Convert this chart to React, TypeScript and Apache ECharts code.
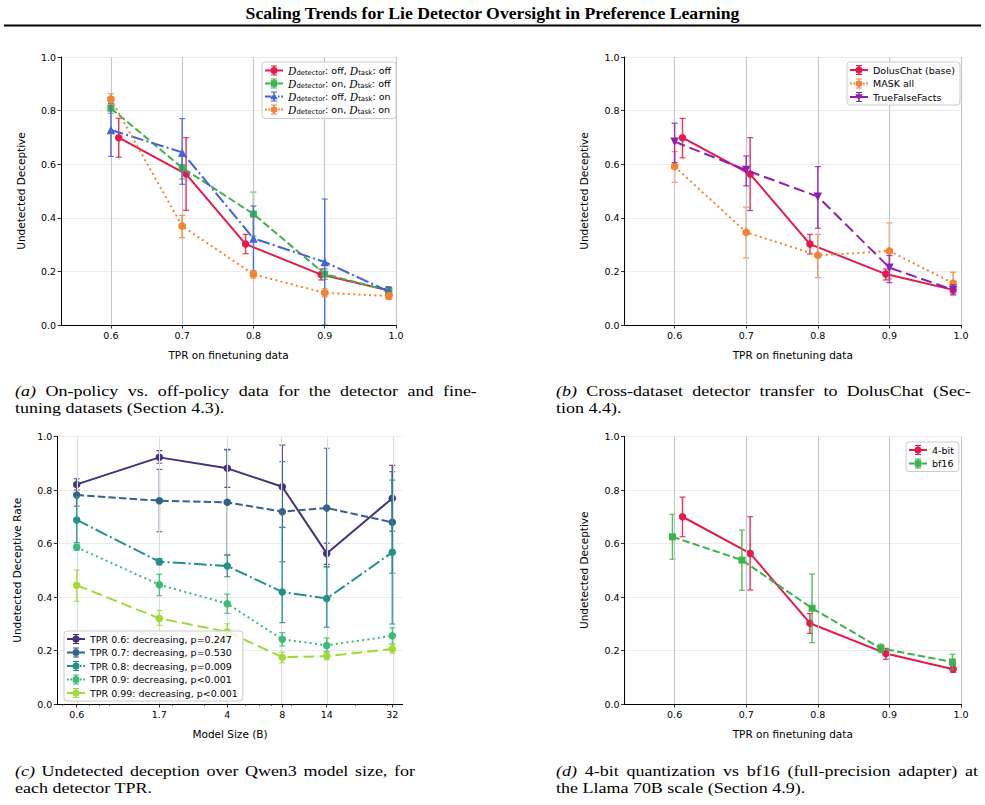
import React, { useEffect, useRef } from "react";
import * as echarts from "echarts";

const TITLE = "Scaling Trends for Lie Detector Oversight in Preference Learning";
const FONT_SANS = "'DejaVu Sans', sans-serif";
const FONT_SERIF = "'Liberation Serif', 'Times New Roman', serif";

// ---------- shared ticks ----------
const tprTicks = [0.6, 0.7, 0.8, 0.9, 1.0];
const yTicksLabel = "Undetected Deceptive";

// ---------- Panel (a) ----------
const aNames = [
  "D_detector: off, D_task: off",
  "D_detector: on, D_task: off",
  "D_detector: off, D_task: on",
  "D_detector: on, D_task: on",
];
const aXoffOff = [0.611, 0.7055, 0.789, 0.895, 0.989];
const aYoffOff = [0.699, 0.563, 0.302, 0.188, 0.13];
const aLoOffOff = [0.626, 0.428, 0.266, 0.168, 0.118];
const aHiOffOff = [0.771, 0.699, 0.338, 0.209, 0.142];

const aXonOff = [0.6, 0.7, 0.8, 0.9, 0.99];
const aYonOff = [0.809, 0.587, 0.414, 0.19, 0.128];
const aLoOnOff = [0.79, 0.545, 0.332, 0.17, 0.115];
const aHiOnOff = [0.828, 0.63, 0.496, 0.21, 0.141];

const aXoffOn = [0.6, 0.7, 0.8, 0.9, 0.99];
const aYoffOn = [0.728, 0.644, 0.323, 0.235, 0.125];
const aLoOffOn = [0.629, 0.525, 0.202, 0.0, 0.11];
const aHiOffOn = [0.827, 0.77, 0.444, 0.47, 0.14];

const aXonOn = [0.6, 0.7, 0.8, 0.9, 0.99];
const aYonOn = [0.843, 0.369, 0.189, 0.12, 0.108];
const aLoOnOn = [0.823, 0.326, 0.175, 0.105, 0.095];
const aHiOnOn = [0.863, 0.409, 0.203, 0.135, 0.121];

// ---------- Panel (b) ----------
const bNames = ["DolusChat (base)", "MASK all", "TrueFalseFacts"];
const bXdolus = [0.611, 0.7055, 0.789, 0.895, 0.989];
const bYdolus = [0.699, 0.563, 0.302, 0.19, 0.131];
const bLoDolus = [0.624, 0.427, 0.265, 0.168, 0.119];
const bHiDolus = [0.771, 0.699, 0.338, 0.209, 0.143];

const bXmask = [0.6, 0.7, 0.8, 0.9, 0.989];
const bYmask = [0.591, 0.346, 0.26, 0.276, 0.156];
const bLoMask = [0.532, 0.25, 0.177, 0.171, 0.115];
const bHiMask = [0.647, 0.44, 0.338, 0.381, 0.197];

const bXtff = [0.6, 0.7, 0.8, 0.9, 0.989];
const bYtff = [0.684, 0.578, 0.479, 0.214, 0.131];
const bLoTff = [0.606, 0.519, 0.361, 0.158, 0.112];
const bHiTff = [0.753, 0.631, 0.591, 0.259, 0.15];

// ---------- Panel (c) ----------
const cSizes = [0.6, 1.7, 4, 8, 14, 32];
const cSizeLabels = ["0.6", "1.7", "4", "8", "14", "32"];
const cMinorTicks = [0.5, 0.7, 0.8, 0.9, 2, 3, 5, 6, 7, 9, 20, 30];
const cNames = [
  "TPR 0.6: decreasing, p=0.247",
  "TPR 0.7: decreasing, p=0.530",
  "TPR 0.8: decreasing, p=0.009",
  "TPR 0.9: decreasing, p<0.001",
  "TPR 0.99: decreasing, p<0.001",
];
const cY06 = [0.821, 0.922, 0.881, 0.812, 0.563, 0.769];
const cLo06 = [0.8, 0.9, 0.81, 0.66, 0.522, 0.646];
const cHi06 = [0.842, 0.947, 0.952, 0.968, 0.601, 0.892];

const cY07 = [0.781, 0.76, 0.754, 0.719, 0.733, 0.679];
const cLo07 = [0.74, 0.644, 0.557, 0.532, 0.513, 0.489];
const cHi07 = [0.827, 0.877, 0.95, 0.906, 0.956, 0.869];

const cY08 = [0.688, 0.532, 0.516, 0.419, 0.394, 0.567];
const cLo08 = [0.603, 0.52, 0.476, 0.304, 0.287, 0.299];
const cHi08 = [0.775, 0.544, 0.557, 0.66, 0.513, 0.837];

const cY09 = [0.586, 0.446, 0.375, 0.242, 0.219, 0.255];
const cLo09 = [0.575, 0.405, 0.339, 0.217, 0.196, 0.224];
const cHi09 = [0.597, 0.485, 0.411, 0.267, 0.247, 0.285];

const cY099 = [0.444, 0.32, 0.27, 0.175, 0.179, 0.206];
const cLo099 = [0.384, 0.294, 0.235, 0.154, 0.165, 0.19];
const cHi099 = [0.501, 0.35, 0.3, 0.194, 0.193, 0.223];

// ---------- Panel (d) ----------
const dNames = ["4-bit", "bf16"];
const dX4bit = [0.611, 0.7055, 0.789, 0.895, 0.989];
const dY4bit = [0.7, 0.563, 0.302, 0.189, 0.13];
const dLo4bit = [0.625, 0.426, 0.264, 0.167, 0.118];
const dHi4bit = [0.773, 0.7, 0.338, 0.208, 0.143];

const dXbf16 = [0.597, 0.694, 0.792, 0.888, 0.988];
const dYbf16 = [0.625, 0.538, 0.358, 0.208, 0.157];
const dLoBf16 = [0.541, 0.425, 0.229, 0.192, 0.128];
const dHiBf16 = [0.709, 0.65, 0.486, 0.224, 0.186];

// ---------- captions ----------
const captions = [
  { tag: "(a)", line1: "On-policy vs. off-policy data for the detector and fine-", line2: "tuning datasets (Section 4.3)." },
  { tag: "(b)", line1: "Cross-dataset detector transfer to DolusChat (Sec-", line2: "tion 4.4)." },
  { tag: "(c)", line1: "Undetected deception over Qwen3 model size, for", line2: "each detector TPR." },
  { tag: "(d)", line1: "4-bit quantization vs bf16 (full-precision adapter) at", line2: "the Llama 70B scale (Section 4.9)." },
];

// ---------- styling / layout ----------
const RED = "#e6194b";
const GREEN = "#3cb44b";
const BLUE = "#4363d8";
const ORANGE = "#f58231";
const PURPLE = "#911eb4";
const VIRIDIS = ["#46307e", "#33638d", "#21918c", "#3bbb75", "#a0da39"];

const DASHED = [7.4, 3.2];
const DASHDOT = [12.8, 3.2, 2, 3.2];
const DOTTED = [2, 3.3];
const LONGDASH = [11, 5];

const GRIDS = [
  { left: 61, top: 57, width: 335, height: 268 },
  { left: 624.5, top: 57, width: 336.5, height: 268 },
  { left: 57.3, top: 436.5, width: 345.4, height: 267.5 },
  { left: 624.5, top: 436.5, width: 336.5, height: 267.5 },
];
const TPR_MIN = 0.53;
const TPR_MAX = 1.0;
const C_MIN = -0.328;
const C_MAX = 1.562;

const CAPTION_POS = [
  { x0: 15, x1: 477, y1: 391, y2: 408 },
  { x0: 556, x1: 971, y1: 391, y2: 408 },
  { x0: 15, x1: 415, y1: 771, y2: 788 },
  { x0: 556, x1: 978, y1: 771, y2: 788 },
];
const CAPTION_SIZE = 15.5;
const CAPTION_SCALE_X = 18 / 15.5;

type Mk = "circle" | "square" | "triUp" | "triDown" | "hex";
type LS = "solid" | "dashed" | "dashdot" | "dotted" | "longdash";

const HEX_PATH = "path://M0,-1L0.866,-0.5L0.866,0.5L0,1L-0.866,0.5L-0.866,-0.5Z";

function rectP(x0: number, y0: number, x1: number, y1: number) {
  return `M${x0} ${y0}L${x1} ${y0}L${x1} ${y1}L${x0} ${y1}Z`;
}
function markerP(m: Mk) {
  switch (m) {
    case "circle":
      return "M11 10A7 7 0 1 1 25 10A7 7 0 1 1 11 10Z";
    case "square":
      return rectP(11.5, 3.5, 24.5, 16.5);
    case "triUp":
      return "M18 2.5L25.5 15.5L10.5 15.5Z";
    case "triDown":
      return "M10.5 4.5L25.5 4.5L18 17.5Z";
    default:
      return "M18 2.5L24.5 6.25L24.5 13.75L18 17.5L11.5 13.75L11.5 6.25Z";
  }
}
function segs(ls: LS): number[][] {
  switch (ls) {
    case "solid":
      return [[0, 36]];
    case "dashed":
      return [[0, 11], [25, 36]];
    case "dashdot":
      return [[0, 13], [26, 29], [32.5, 36]];
    case "dotted":
      return [[0, 3.5], [6.6, 10.1], [25.9, 29.4], [32.5, 36]];
    default:
      return [[0, 14], [22, 36]];
  }
}
function legendIcon(m: Mk, ls: LS) {
  let d = segs(ls).map((s) => rectP(s[0], 8, s[1], 12)).join("");
  d += rectP(16.5, 0, 19.5, 20) + rectP(12, 0, 24, 2) + rectP(12, 18, 24, 20);
  d += markerP(m);
  return "path://" + d;
}
function dashOf(ls: LS): any {
  switch (ls) {
    case "dashed":
      return DASHED;
    case "dashdot":
      return DASHDOT;
    case "dotted":
      return DOTTED;
    case "longdash":
      return LONGDASH;
    default:
      return "solid";
  }
}
function symOf(m: Mk): { symbol: string; rotate: number; size: number } {
  switch (m) {
    case "circle":
      return { symbol: "circle", rotate: 0, size: 7.5 };
    case "square":
      return { symbol: "rect", rotate: 0, size: 7 };
    case "triUp":
      return { symbol: "triangle", rotate: 0, size: 8.5 };
    case "triDown":
      return { symbol: "triangle", rotate: 180, size: 8.5 };
    default:
      return { symbol: HEX_PATH, rotate: 0, size: 8.5 };
  }
}

const ident = (v: number) => v;
const log10 = (v: number) => Math.log10(v);

function makePair(
  name: string,
  gi: number,
  xs: number[],
  ys: number[],
  lo: number[],
  hi: number[],
  color: string,
  ls: LS,
  mk: Mk,
  z: number,
  tx: (v: number) => number
) {
  const sym = symOf(mk);
  const err = {
    type: "custom",
    name: name + " (error)",
    xAxisIndex: gi,
    yAxisIndex: gi,
    z: z,
    silent: true,
    clip: true,
    data: xs.map((x, i) => [tx(x), lo[i], hi[i]]),
    encode: { x: 0, y: [1, 2] },
    renderItem: (_p: any, api: any) => {
      const x = api.value(0);
      const a = api.coord([x, api.value(1)]);
      const b = api.coord([x, api.value(2)]);
      const st = { stroke: color, lineWidth: 1.5, opacity: 0.85 };
      const cst = { stroke: color, lineWidth: 1.2, opacity: 0.85 };
      const cap = 3;
      return {
        type: "group",
        children: [
          { type: "line", shape: { x1: a[0], y1: a[1], x2: b[0], y2: b[1] }, style: st },
          { type: "line", shape: { x1: a[0] - cap, y1: a[1], x2: a[0] + cap, y2: a[1] }, style: cst },
          { type: "line", shape: { x1: b[0] - cap, y1: b[1], x2: b[0] + cap, y2: b[1] }, style: cst },
        ],
      };
    },
  };
  const line = {
    type: "line",
    name,
    xAxisIndex: gi,
    yAxisIndex: gi,
    z: z + 1,
    silent: true,
    data: xs.map((x, i) => [tx(x), ys[i]]),
    symbol: sym.symbol,
    symbolSize: sym.size,
    symbolRotate: sym.rotate,
    symbolKeepAspect: true,
    showSymbol: true,
    lineStyle: { color, width: 2, type: dashOf(ls), cap: "butt" },
    itemStyle: { color, borderWidth: 0 },
    emphasis: { disabled: true },
  };
  return [err, line];
}

function vgrid(gi: number, values: number[], color: string) {
  return {
    type: "line",
    name: "vgrid" + gi,
    xAxisIndex: gi,
    yAxisIndex: gi,
    data: [],
    silent: true,
    z: 1,
    markLine: {
      silent: true,
      symbol: ["none", "none"],
      label: { show: false },
      lineStyle: { color, width: 1.1, type: "solid" },
      emphasis: { disabled: true },
      animation: false,
      data: values.map((v) => ({ xAxis: v })),
    },
  };
}

function yAxisCfg(gi: number, name: string) {
  return {
    type: "value",
    gridIndex: gi,
    min: 0,
    max: 1,
    interval: 0.2,
    axisLine: { show: true, onZero: false, lineStyle: { color: "#000", width: 1 } },
    axisTick: { show: true, inside: false, length: 3.5, lineStyle: { color: "#000", width: 0.8 } },
    axisLabel: {
      formatter: (v: number) => v.toFixed(1),
      fontSize: 9.5,
      fontFamily: FONT_SANS,
      color: "#000",
      margin: 5,
    },
    splitLine: { show: true, lineStyle: { color: "#ebebeb", width: 1.1 } },
    name,
    nameLocation: "middle",
    nameGap: 35,
    nameTextStyle: { fontSize: 10.5, fontFamily: FONT_SANS, color: "#000" },
  };
}

function tprXAxis(gi: number) {
  return {
    type: "value",
    gridIndex: gi,
    position: "bottom",
    min: TPR_MIN,
    max: TPR_MAX,
    axisLine: { show: true, onZero: false, lineStyle: { color: "#000", width: 1 } },
    axisTick: { show: true, inside: false, length: 3.5, customValues: tprTicks, lineStyle: { color: "#000", width: 0.8 } },
    axisLabel: {
      customValues: tprTicks,
      formatter: (v: number) => v.toFixed(1),
      fontSize: 9.5,
      fontFamily: FONT_SANS,
      color: "#000",
      margin: 5,
    },
    splitLine: { show: false },
    name: "TPR on finetuning data",
    nameLocation: "middle",
    nameGap: 24,
    nameTextStyle: { fontSize: 10.5, fontFamily: FONT_SANS, color: "#000" },
  };
}

const legendBase: any = {
  orient: "vertical",
  itemWidth: 18,
  itemHeight: 10,
  itemGap: 3.5,
  padding: [3, 5, 3, 3],
  backgroundColor: "rgba(255,255,255,0.8)",
  borderColor: "#cccccc",
  borderWidth: 1,
  borderRadius: 3,
  textStyle: { fontSize: 9.5, fontFamily: FONT_SANS, color: "#000" },
  itemStyle: { borderWidth: 0 },
  selectedMode: false,
  z: 50,
};

function buildOption(graphics: any[]) {
  const series: any[] = [];
  series.push(vgrid(0, tprTicks, "#c6c6c6"));
  series.push(vgrid(1, tprTicks, "#c6c6c6"));
  series.push(vgrid(2, cSizes.map(log10), "#dddddd"));
  series.push(vgrid(3, tprTicks, "#c6c6c6"));

  const aSpec: [number[], number[], number[], number[], string, LS, Mk][] = [
    [aXoffOff, aYoffOff, aLoOffOff, aHiOffOff, RED, "solid", "circle"],
    [aXonOff, aYonOff, aLoOnOff, aHiOnOff, GREEN, "dashed", "square"],
    [aXoffOn, aYoffOn, aLoOffOn, aHiOffOn, BLUE, "dashdot", "triUp"],
    [aXonOn, aYonOn, aLoOnOn, aHiOnOn, ORANGE, "dotted", "hex"],
  ];
  aSpec.forEach((s, i) => series.push(...makePair(aNames[i], 0, s[0], s[1], s[2], s[3], s[4], s[5], s[6], 2 + 2 * i, ident)));

  const bSpec: [number[], number[], number[], number[], string, LS, Mk][] = [
    [bXdolus, bYdolus, bLoDolus, bHiDolus, RED, "solid", "circle"],
    [bXmask, bYmask, bLoMask, bHiMask, ORANGE, "dotted", "hex"],
    [bXtff, bYtff, bLoTff, bHiTff, PURPLE, "longdash", "triDown"],
  ];
  bSpec.forEach((s, i) => series.push(...makePair(bNames[i], 1, s[0], s[1], s[2], s[3], s[4], s[5], s[6], 2 + 2 * i, ident)));

  const cSpec: [number[], number[], number[], LS][] = [
    [cY06, cLo06, cHi06, "solid"],
    [cY07, cLo07, cHi07, "dashed"],
    [cY08, cLo08, cHi08, "dashdot"],
    [cY09, cLo09, cHi09, "dotted"],
    [cY099, cLo099, cHi099, "longdash"],
  ];
  cSpec.forEach((s, i) => series.push(...makePair(cNames[i], 2, cSizes, s[0], s[1], s[2], VIRIDIS[i], s[3], "circle", 2 + 2 * i, log10)));

  const dSpec: [number[], number[], number[], number[], string, LS, Mk][] = [
    [dX4bit, dY4bit, dLo4bit, dHi4bit, RED, "solid", "circle"],
    [dXbf16, dYbf16, dLoBf16, dHiBf16, GREEN, "dashed", "square"],
  ];
  dSpec.forEach((s, i) => series.push(...makePair(dNames[i], 3, s[0], s[1], s[2], s[3], s[4], s[5], s[6], 2 + 2 * i, ident)));

  const cMajor = cSizes.map(log10);
  const xAxes: any[] = [
    tprXAxis(0),
    tprXAxis(1),
    {
      type: "value",
      gridIndex: 2,
      position: "bottom",
      min: C_MIN,
      max: C_MAX,
      axisLine: { show: true, onZero: false, lineStyle: { color: "#000", width: 1 } },
      axisTick: { show: true, inside: false, length: 3.5, customValues: cMajor, lineStyle: { color: "#000", width: 0.8 } },
      axisLabel: {
        customValues: cMajor,
        formatter: (v: number) => {
          let best = 0;
          cSizes.forEach((s, i) => {
            if (Math.abs(log10(s) - v) < Math.abs(log10(cSizes[best]) - v)) best = i;
          });
          return cSizeLabels[best];
        },
        fontSize: 9.5,
        fontFamily: FONT_SANS,
        color: "#000",
        margin: 5,
      },
      splitLine: { show: false },
      name: "Model Size (B)",
      nameLocation: "middle",
      nameGap: 24,
      nameTextStyle: { fontSize: 10.5, fontFamily: FONT_SANS, color: "#000" },
    },
    tprXAxis(3),
    {
      type: "value",
      gridIndex: 2,
      position: "bottom",
      min: C_MIN,
      max: C_MAX,
      axisLine: { show: false, onZero: false },
      axisTick: { show: true, inside: false, length: 2, customValues: cMinorTicks.map(log10), lineStyle: { color: "#000", width: 0.6 } },
      axisLabel: { show: false },
      splitLine: { show: false },
    },
  ];

  const yAxes = [
    yAxisCfg(0, yTicksLabel),
    yAxisCfg(1, yTicksLabel),
    yAxisCfg(2, "Undetected Deceptive Rate"),
    yAxisCfg(3, yTicksLabel),
  ];

  const aMk: [Mk, LS][] = [["circle", "solid"], ["square", "dashed"], ["triUp", "dashdot"], ["hex", "dotted"]];
  const bMk: [Mk, LS][] = [["circle", "solid"], ["hex", "dotted"], ["triDown", "longdash"]];
  const cLs: LS[] = ["solid", "dashed", "dashdot", "dotted", "longdash"];
  const dMk: [Mk, LS][] = [["circle", "solid"], ["square", "dashed"]];

  const legends = [
    {
      ...legendBase,
      left: 262,
      top: 62,
      itemGap: 1.5,
      data: aNames.map((n, i) => ({ name: n, icon: legendIcon(aMk[i][0], aMk[i][1]) })),
      formatter: (name: string) => {
        const m = name.match(/D_detector: (\w+), D_task: (\w+)/);
        if (!m) return name;
        return `{d|D}{s|detector}{t|: ${m[1]}, }{d|D}{s|task}{t|: ${m[2]}}`;
      },
      textStyle: {
        fontSize: 9.5,
        fontFamily: FONT_SANS,
        color: "#000",
        rich: {
          d: { fontFamily: "'DejaVu Serif', serif", fontStyle: "italic", fontSize: 10.5, lineHeight: 12, color: "#000" },
          s: { fontFamily: FONT_SANS, fontSize: 6.8, lineHeight: 12, verticalAlign: "bottom", color: "#000" },
          t: { fontFamily: FONT_SANS, fontSize: 9.5, lineHeight: 12, color: "#000" },
        },
      },
    },
    {
      ...legendBase,
      left: 847,
      top: 62,
      data: bNames.map((n, i) => ({ name: n, icon: legendIcon(bMk[i][0], bMk[i][1]) })),
    },
    {
      ...legendBase,
      left: 64,
      top: 631,
      data: cNames.map((n, i) => ({ name: n, icon: legendIcon("circle", cLs[i]) })),
    },
    {
      ...legendBase,
      left: 906,
      top: 442,
      data: dNames.map((n, i) => ({ name: n, icon: legendIcon(dMk[i][0], dMk[i][1]) })),
    },
  ];

  return {
    animation: false,
    backgroundColor: "#ffffff",
    grid: GRIDS.map((g) => ({ ...g, containLabel: false })),
    xAxis: xAxes,
    yAxis: yAxes,
    legend: legends,
    series,
    graphic: graphics,
  };
}

function buildGraphics() {
  const canvas = document.createElement("canvas");
  const ctx = canvas.getContext("2d") as CanvasRenderingContext2D;
  const measure = (t: string, italic: boolean) => {
    ctx.font = `${italic ? "italic " : ""}${CAPTION_SIZE}px "Liberation Serif"`;
    return ctx.measureText(t).width;
  };
  const els: any[] = [
    {
      type: "text",
      x: 492.5,
      y: 13,
      style: {
        text: TITLE,
        fontFamily: FONT_SERIF,
        fontWeight: "bold",
        fontSize: 17.7,
        fill: "#000",
        align: "center",
        verticalAlign: "middle",
      },
    },
    {
      type: "line",
      shape: { x1: 4, y1: 25.5, x2: 981, y2: 25.5 },
      style: { stroke: "#000", lineWidth: 2.2 },
    },
  ];
  captions.forEach((c, k) => {
    const pos = CAPTION_POS[k];
    const words = c.line1.split(" ");
    const tagW = measure(c.tag, true);
    const wordsW = words.reduce((acc, w) => acc + measure(w, false), 0);
    const localWidth = (pos.x1 - pos.x0) / CAPTION_SCALE_X;
    const gap = Math.max(2, (localWidth - tagW - wordsW) / words.length);
    const text = `{i|${c.tag}}` + words.map((w) => `{g| }{n|${w}}`).join("");
    els.push({
      type: "text",
      x: pos.x0,
      y: pos.y1,
      scaleX: CAPTION_SCALE_X,
      style: {
        text,
        fontFamily: FONT_SERIF,
        fontSize: CAPTION_SIZE,
        fill: "#000",
        align: "left",
        verticalAlign: "middle",
        rich: {
          i: { fontFamily: FONT_SERIF, fontSize: CAPTION_SIZE, fontStyle: "italic", fill: "#000" },
          g: { fontFamily: FONT_SERIF, fontSize: CAPTION_SIZE, width: gap, fill: "#000" },
          n: { fontFamily: FONT_SERIF, fontSize: CAPTION_SIZE, fill: "#000" },
        },
      },
    });
    els.push({
      type: "text",
      x: pos.x0,
      y: pos.y2,
      scaleX: CAPTION_SCALE_X,
      style: {
        text: c.line2,
        fontFamily: FONT_SERIF,
        fontSize: CAPTION_SIZE,
        fill: "#000",
        align: "left",
        verticalAlign: "middle",
      },
    });
  });
  return els;
}

export default function App() {
  const ref = useRef<HTMLDivElement>(null);
  useEffect(() => {
    if (!ref.current) return;
    const chart = echarts.init(ref.current, null, { renderer: "svg", width: 985, height: 805 });
    chart.setOption(buildOption(buildGraphics()) as any);
    return () => chart.dispose();
  }, []);
  return (
    <div
      ref={ref}
      style={{ position: "absolute", left: 0, top: 0, width: 985, height: 805, background: "#fff" }}
    />
  );
}
